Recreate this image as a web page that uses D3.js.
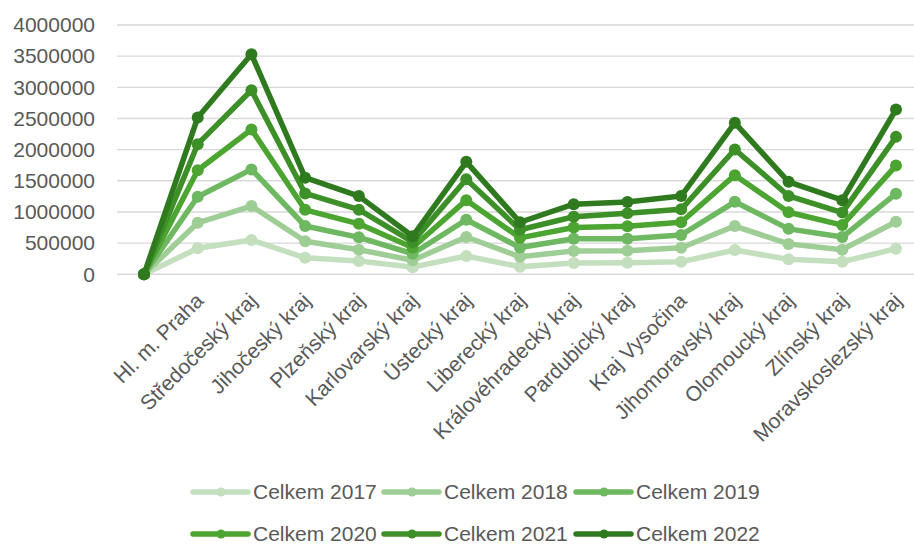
<!DOCTYPE html>
<html>
<head>
<meta charset="utf-8">
<script src="https://cdn.jsdelivr.net/npm/d3@7"></script>
<style>
  html, body { margin: 0; padding: 0; background: #ffffff; }
  svg { display: block; font-family: "Liberation Sans", Arial, sans-serif; }
</style>
</head>
<body>
<svg id="chart" width="914" height="545"></svg>
<script>
// Regions (first slot is an empty leading category)
const categories = ["", "Hl. m. Praha", "Středočeský kraj", "Jihočeský kraj", "Plzeňský kraj",
  "Karlovarský kraj", "Ústecký kraj", "Liberecký kraj", "Královéhradecký kraj",
  "Pardubický kraj", "Kraj Vysočina", "Jihomoravský kraj", "Olomoucký kraj",
  "Zlínský kraj", "Moravskoslezský kraj"];

const seriesNames = ["Celkem 2017", "Celkem 2018", "Celkem 2019", "Celkem 2020", "Celkem 2021", "Celkem 2022"];

// Yearly values per region (stacked line chart)
const celkem2017 = [0, 417000, 550000, 265000, 215000, 115000, 293000, 122000, 180000, 186000, 202000, 389000, 240000, 202000, 410000];
const celkem2018 = [0, 410000, 545000, 265000, 180000, 110000, 305000, 160000, 195000, 192000, 223000, 385000, 248000, 193000, 433000];
const celkem2019 = [0, 417000, 588000, 245000, 198000, 105000, 278000, 148000, 194000, 192000, 205000, 389000, 241000, 203000, 450000];
const celkem2020 = [0, 426000, 641000, 260000, 217000, 100000, 314000, 155000, 181000, 200000, 205000, 428000, 266000, 192000, 452000];
const celkem2021 = [0, 418000, 629000, 263000, 226000, 90000, 335000, 130000, 173000, 208000, 207000, 412000, 262000, 200000, 460000];
const celkem2022 = [0, 428000, 577000, 252000, 219000, 90000, 280000, 120000, 202000, 182000, 213000, 427000, 227000, 200000, 439000];

const yTicks = [0, 500000, 1000000, 1500000, 2000000, 2500000, 3000000, 3500000, 4000000];

const seriesValues = [celkem2017, celkem2018, celkem2019, celkem2020, celkem2021, celkem2022];
const colors = ["#c3dfbe", "#9fcd96", "#6db861", "#4ca431", "#3d8f28", "#2f7a1f"];

const rows = categories.map((c, i) => {
  const r = { category: c };
  seriesNames.forEach((s, k) => { r[s] = seriesValues[k][i]; });
  return r;
});
const stacked = d3.stack().keys(seriesNames)(rows);

const svg = d3.select("#chart");

const x = d3.scalePoint().domain(d3.range(categories.length)).range([144, 896]);
const y = d3.scaleLinear().domain([0, 4000000]).range([274.3, 25]);

// Gridlines
svg.append("g")
  .selectAll("line")
  .data(yTicks)
  .join("line")
  .attr("x1", 117).attr("x2", 914)
  .attr("y1", d => y(d)).attr("y2", d => y(d))
  .attr("stroke", "#d9d9d9")
  .attr("stroke-width", 1.4);

// Y axis labels
const yAxis = d3.axisLeft(y).tickValues(yTicks).tickFormat(d3.format("d")).tickSize(0).tickPadding(0);
const yg = svg.append("g").attr("transform", "translate(95,0)").call(yAxis);
yg.select(".domain").remove();
yg.selectAll("text")
  .attr("fill", "#595959")
  .style("font-size", "21px")
  .style("font-family", "'Liberation Sans', Arial, sans-serif");

// X axis labels, rotated
const xAxis = d3.axisBottom(x).tickFormat(i => categories[i]).tickSize(0).tickPadding(0);
const xg = svg.append("g").attr("transform", "translate(0,0)").call(xAxis);
xg.select(".domain").remove();
xg.selectAll(".tick").attr("transform", d => `translate(${x(d) + 7},302)`);
xg.selectAll("text")
  .attr("fill", "#595959")
  .attr("x", 0).attr("y", 0).attr("dy", 0)
  .attr("text-anchor", "end")
  .attr("transform", "rotate(-45)")
  .style("font-size", "21px")
  .style("font-family", "'Liberation Sans', Arial, sans-serif");

// Lines and markers
const line = d3.line().x((d, i) => x(i)).y(d => y(d[1]));
const layers = svg.append("g").selectAll("g")
  .data(stacked)
  .join("g");

layers.append("path")
  .attr("d", d => line(d))
  .attr("fill", "none")
  .attr("stroke", (d, i) => colors[i])
  .attr("stroke-width", 5.5)
  .attr("stroke-linejoin", "round")
  .attr("stroke-linecap", "round");

layers.selectAll("circle")
  .data((d, i) => d.map((p, j) => ({ p, j, i })))
  .join("circle")
  .attr("cx", d => x(d.j))
  .attr("cy", d => y(d.p[1]))
  .attr("r", 6)
  .attr("fill", d => colors[d.i]);

// Legend
const legendPos = [
  { lx: 193, ly: 492 }, { lx: 384, ly: 492 }, { lx: 576, ly: 492 },
  { lx: 193, ly: 534 }, { lx: 384, ly: 534 }, { lx: 576, ly: 534 }
];
const legend = svg.append("g").selectAll("g")
  .data(seriesNames)
  .join("g")
  .attr("transform", (d, i) => `translate(${legendPos[i].lx},${legendPos[i].ly})`);

legend.append("line")
  .attr("x1", 0).attr("x2", 55)
  .attr("y1", 0).attr("y2", 0)
  .attr("stroke", (d, i) => colors[i])
  .attr("stroke-width", 5.5)
  .attr("stroke-linecap", "round");
legend.append("circle")
  .attr("cx", 28).attr("cy", 0).attr("r", 4.5)
  .attr("fill", (d, i) => colors[i]);
legend.append("text")
  .attr("x", 60).attr("y", 0).attr("dy", "0.35em")
  .attr("fill", "#595959")
  .style("font-size", "21px")
  .text(d => d);
</script>
</body>
</html>
